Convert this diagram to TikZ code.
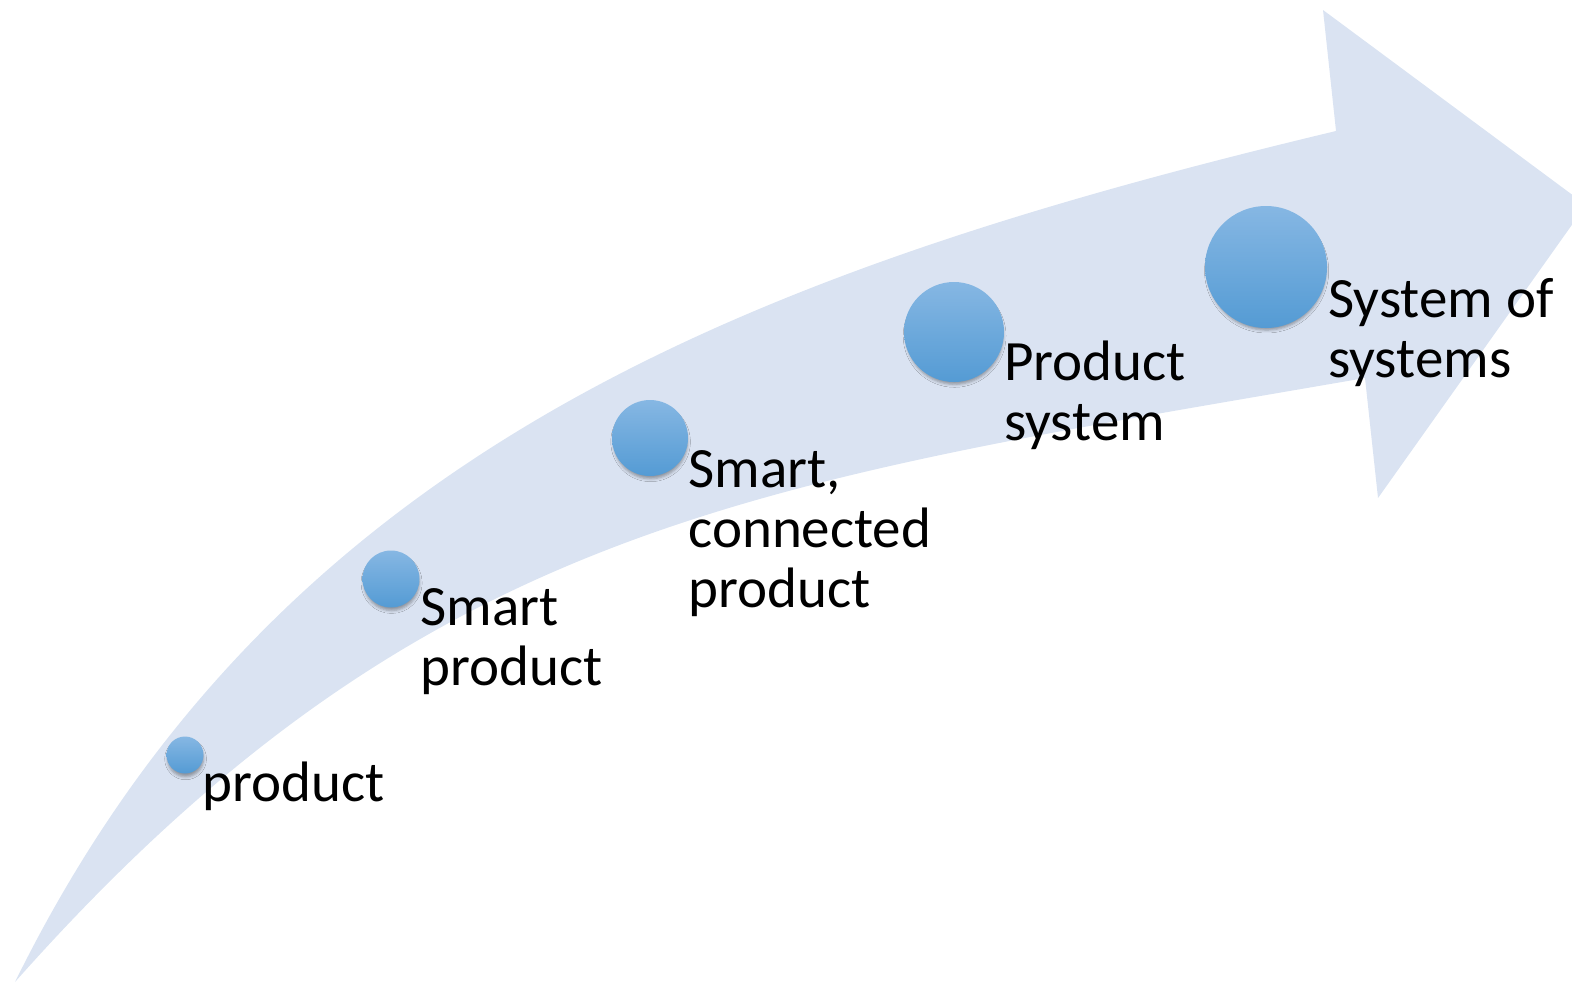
\documentclass[tikz,border=0pt]{standalone}
\usepackage{fontspec}
\setmainfont{Carlito}
\usetikzlibrary{shadows.blur}
\definecolor{band}{RGB}{218,227,242}
\definecolor{balltop}{RGB}{134,183,227}
\definecolor{ballbottom}{RGB}{84,155,212}
\tikzset{
  stage/.style={circle, inner sep=0pt, top color=balltop, bottom color=ballbottom,
    blur shadow={shadow scale=0.97, shadow xshift=0.3pt, shadow yshift=-2pt, shadow blur radius=1.5pt, shadow opacity=35}},
  stagelabel/.style={anchor=base west, align=left, inner sep=0pt, font=\fontsize{28.5}{30}\selectfont}
}
\begin{document}
\begin{tikzpicture}[x=0.5pt, y=-0.5pt]
  \useasboundingbox (0,0) rectangle (1572,985);
  \clip (0,0) rectangle (1572,985);
  % bent arrow
  \fill[band] (15,982) .. controls (275,454) and (742,273) .. (1336,131)
    -- (1323,10) -- (1586,205) -- (1378,498) -- (1365,378)
    .. controls (759,483) and (425,520) .. cycle;
  % stages
  \node[stage, minimum size=18.5pt] (p1) at (185,755) {};
  \node[stage, minimum size=28.5pt] (p2) at (391,579) {};
  \node[stage, minimum size=38pt] (p3) at (650,438) {};
  \node[stage, minimum size=50pt] (p4) at (954,332) {};
  \node[stage, minimum size=61pt] (p5) at (1266,267) {};
  % labels, placed at the baseline of their last line
  \node[stagelabel] (l1) at (202,801) {product};
  \node[stagelabel] (l2) at (420,685) {Smart\\product};
  \node[stagelabel] (l3) at (688,607) {Smart,\\connected\\product};
  \node[stagelabel] (l4) at (1004,440) {Product\\system};
  \node[stagelabel] (l5) at (1328,377) {System of\\systems};
\end{tikzpicture}
\end{document}
